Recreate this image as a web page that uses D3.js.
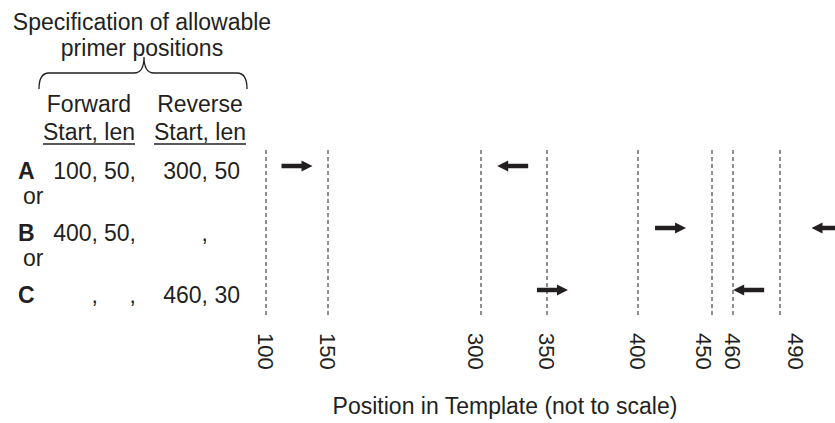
<!DOCTYPE html>
<html>
<head>
<meta charset="utf-8">
<script src="https://cdn.jsdelivr.net/npm/d3@7"></script>
<style>
  body { margin: 0; background: #fff; }
  svg text { font-family: "Liberation Sans", Arial, Helvetica, sans-serif; fill: #231f20; }
</style>
</head>
<body>
<svg id="chart" width="835" height="423"></svg>
<script>
// template positions marked on the axis
const tickPositions = [100, 150, 300, 350, 400, 450, 460, 490];
// rows of primer specifications
const rows = ["A", "B", "C"];
const forwardSpec = [[100, 50], [400, 50], [null, null]];
const reverseSpec = [[300, 50], [null, null], [460, 30]];
// primer arrows, centre in template units
const forwardArrows = [125, 422, 353];
const reverseArrows = [324, 520, 470];

const svg = d3.select("#chart");
const ink = "#231f20";
const fontSize = 23;

// axis is not to scale: piecewise linear mapping
const x = d3.scaleLinear()
    .domain(tickPositions)
    .range([266, 328, 481, 547, 638, 712, 733, 780]);

const y = d3.scalePoint()
    .domain(rows)
    .range([166, 290]);

// heading
svg.append("text")
    .attr("x", 142).attr("y", 30)
    .attr("text-anchor", "middle")
    .style("font-size", fontSize + "px")
    .text("Specification of allowable");
svg.append("text")
    .attr("x", 142).attr("y", 56)
    .attr("text-anchor", "middle")
    .style("font-size", fontSize + "px")
    .text("primer positions");

// curly brace
svg.append("path")
    .attr("d", "M39,89 Q39,73 49,73 L134,73 Q144,73 144,57 Q144,73 154,73 L237,73 Q247,73 247,89")
    .attr("fill", "none")
    .attr("stroke", ink)
    .attr("stroke-width", 1.3);

// column headers
const columns = [
    { name: "Forward", cx: 89, startEnd: 91.5, lenEnd: 129.5, trailing: true, spec: forwardSpec },
    { name: "Reverse", cx: 200, startEnd: 201.5, lenEnd: 240, trailing: false, spec: reverseSpec }
];

columns.forEach(col => {
    svg.append("text")
        .attr("x", col.cx).attr("y", 112)
        .attr("text-anchor", "middle")
        .style("font-size", fontSize + "px")
        .text(col.name);
    const sub = svg.append("text")
        .attr("x", col.cx).attr("y", 140)
        .attr("text-anchor", "middle")
        .style("font-size", fontSize + "px")
        .text("Start, len");
    const w = sub.node().getComputedTextLength();
    svg.append("line")
        .attr("x1", col.cx - w / 2).attr("x2", col.cx + w / 2)
        .attr("y1", 144).attr("y2", 144)
        .attr("stroke", ink)
        .attr("stroke-width", 1.6);
});

// row labels and values
rows.forEach((r, i) => {
    const base = y(r) + 13;
    svg.append("text")
        .attr("x", 18).attr("y", base)
        .style("font-size", fontSize + "px")
        .style("font-weight", "bold")
        .text(r);
    if (i < rows.length - 1) {
        svg.append("text")
            .attr("x", 23).attr("y", base + 25)
            .style("font-size", fontSize + "px")
            .text("or");
    }
    columns.forEach(col => {
        const [start, len] = col.spec[i];
        const g = svg.append("g").style("font-size", fontSize + "px");
        g.append("text").attr("x", col.startEnd).attr("y", base)
            .attr("text-anchor", "end").text(start === null ? "" : start);
        g.append("text").attr("x", col.startEnd).attr("y", base).text(",");
        g.append("text").attr("x", col.lenEnd).attr("y", base)
            .attr("text-anchor", "end").text(len === null ? "" : len);
        if (col.trailing) {
            g.append("text").attr("x", col.lenEnd).attr("y", base).text(",");
        }
    });
});

// dashed position markers
svg.append("g")
    .selectAll("line")
    .data(tickPositions)
    .join("line")
    .attr("x1", d => x(d)).attr("x2", d => x(d))
    .attr("y1", 150).attr("y2", 318)
    .attr("stroke", ink)
    .attr("stroke-width", 1)
    .attr("stroke-dasharray", "4,3");

// rotated tick labels, small nudges where labels crowd
const nudge = { 300: -5, 450: -8, 490: 16 };
svg.append("g")
    .selectAll("text")
    .data(tickPositions)
    .join("text")
    .attr("transform", d => `translate(${x(d) + (nudge[d] || 0)},333) rotate(90)`)
    .attr("dy", "0.36em")
    .style("font-size", "22px")
    .text(d => d);

// arrows
const arrowLen = 31, headLen = 11, headHalf = 5.5, shaft = 4.4;
function arrowPath(cx, cy, dir) {
    const tail = cx - dir * arrowLen / 2;
    const tip = cx + dir * arrowLen / 2;
    const neck = tip - dir * headLen;
    return `M${tail},${cy - shaft / 2} L${neck},${cy - shaft / 2} L${neck},${cy - headHalf}` +
        ` L${tip},${cy} L${neck},${cy + headHalf} L${neck},${cy + shaft / 2} L${tail},${cy + shaft / 2} Z`;
}

const arrows = rows.flatMap((r, i) => [
    { row: r, pos: forwardArrows[i], dir: 1 },
    { row: r, pos: reverseArrows[i], dir: -1 }
]);

svg.append("g")
    .selectAll("path")
    .data(arrows)
    .join("path")
    .attr("d", d => arrowPath(x(d.pos), y(d.row), d.dir))
    .attr("fill", ink);

// axis title
svg.append("text")
    .attr("x", 505).attr("y", 414)
    .attr("text-anchor", "middle")
    .style("font-size", fontSize + "px")
    .text("Position in Template (not to scale)");
</script>
</body>
</html>
